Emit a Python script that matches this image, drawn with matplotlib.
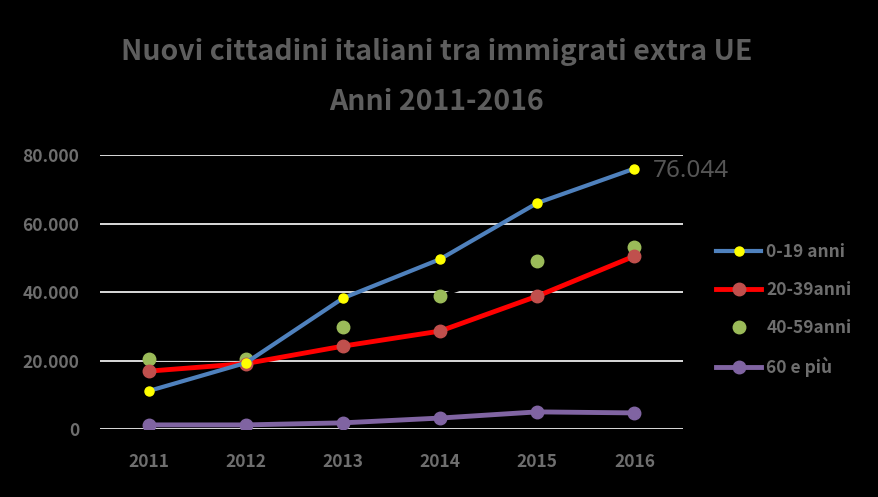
import numpy as np
import matplotlib
matplotlib.use("Agg")
import matplotlib.pyplot as plt

plt.rcParams['font.family'] = ['Noto Sans CJK KR', 'DejaVu Sans']

# DATA
years = ['2011', '2012', '2013', '2014', '2015', '2016']
age_0_19 = [11100, 19300, 38200, 49600, 66000, 76044]
age_20_39 = [16900, 19100, 24200, 28600, 38800, 50500]
age_40_59 = [20400, 20400, 29800, 38800, 49000, 53100]
age_60_plus = [1200, 1200, 1800, 3200, 5000, 4700]
y_ticks = [0, 20000, 40000, 60000, 80000]
y_tick_labels = ['0', '20.000', '40.000', '60.000', '80.000']
last_label = '76.044'

GRAY = '#6e6e6e'

fig = plt.figure(figsize=(8.79, 4.97), dpi=100, facecolor='black')
ax = fig.add_axes([0.1138, 0.1368, 0.6632, 0.5512], facecolor='black')

x = np.arange(len(years))

# GRIDLINES
for t in y_ticks:
    ax.axhline(t, color='white', lw=1.2, zorder=1)

ax.plot(x, age_0_19, color='#4f81bd', lw=3, marker='o', ms=6.5,
        mfc='#ffff00', mec='#ffff00', label='0-19 anni', zorder=4)
ax.plot(x, age_20_39, color='#ff0000', lw=3.5, marker='o', ms=9,
        mfc='#c0504d', mec='#c0504d', label='20-39anni', zorder=3)
ax.plot(x, age_40_59, color='#000000', lw=2.5, marker='o', ms=9,
        mfc='#9bbb59', mec='#9bbb59', label='40-59anni', zorder=2)
ax.plot(x, age_60_plus, color='#8064a2', lw=3.5, marker='o', ms=9,
        mfc='#8064a2', mec='#8064a2', label='60 e più', zorder=3)

ax.annotate(last_label, (x[-1], age_0_19[-1]), xytext=(13, -2),
            textcoords='offset points', va='center', ha='left',
            color='#555555', fontsize=17.5, family=['Noto Sans', 'DejaVu Sans'])

ax.set_xlim(-0.5, 5.5)
ax.set_ylim(0, 80000)
ax.set_xticks(x)
ax.set_xticklabels(years)
ax.set_yticks(y_ticks)
ax.set_yticklabels(y_tick_labels)
ax.tick_params(colors=GRAY, length=0, labelsize=12.5, pad=15)
ax.tick_params(axis='x', pad=17)
for lbl in ax.get_xticklabels() + ax.get_yticklabels():
    lbl.set_fontweight('bold')
for s in ax.spines.values():
    s.set_visible(False)

leg = ax.legend(loc='center left', bbox_to_anchor=(1.03, 0.435), frameon=False,
                labelspacing=1.15, handlelength=2.6, handletextpad=0.3,
                prop={'size': 12.5, 'weight': 'bold'})
for t in leg.get_texts():
    t.set_color(GRAY)

fig.text(0.497, 0.895, 'Nuovi cittadini italiani tra immigrati extra UE',
         ha='center', va='center', color='#5e5e5e', fontsize=20.5, fontweight='bold')
fig.text(0.497, 0.795, 'Anni 2011-2016',
         ha='center', va='center', color='#5e5e5e', fontsize=20.5, fontweight='bold')

fig.savefig('out.png', dpi=100, facecolor='black')
